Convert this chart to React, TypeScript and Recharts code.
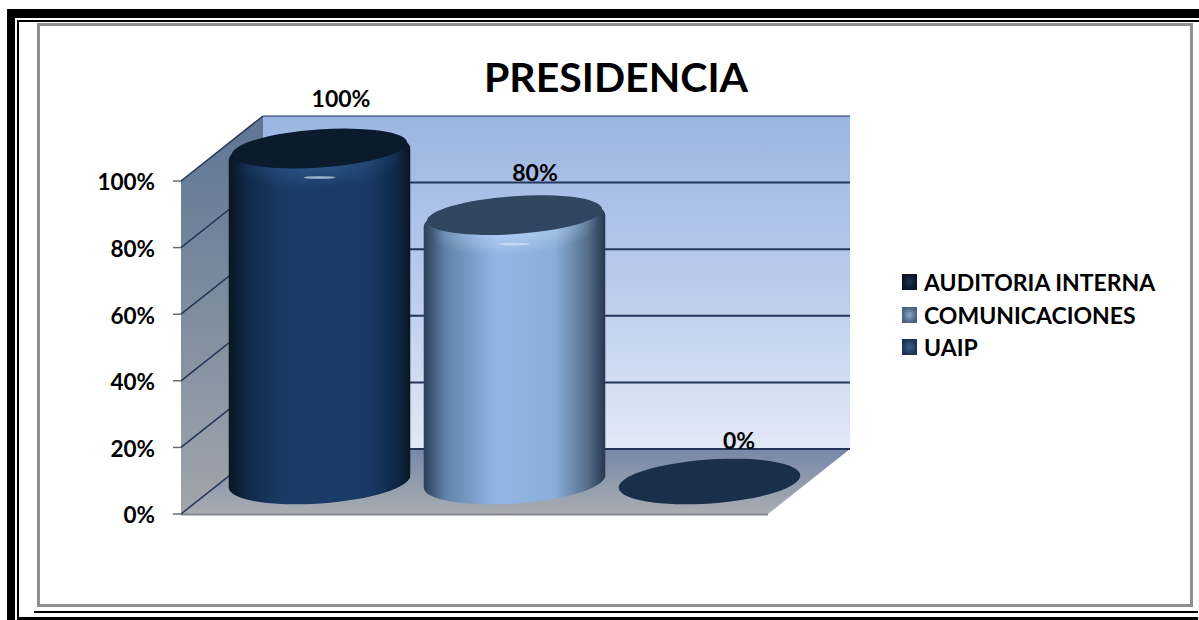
import React from 'react';
import { BarChart, Bar, XAxis, YAxis, Legend, usePlotArea } from 'recharts';

const seriesNames = ['AUDITORIA INTERNA', 'COMUNICACIONES', 'UAIP'];
const seriesValues = [100, 80, 0];
const yTicks = [0, 20, 40, 60, 80, 100];
const categoryName = 'PRESIDENCIA';

const data = [
  seriesNames.reduce<Record<string, string | number>>(
    (row, name, i) => {
      row[name] = seriesValues[i];
      return row;
    },
    { name: categoryName },
  ),
];

const FONT = 'Lato, "Open Sans", sans-serif';
// depth of the fake 3D box
const DEPTH_X = 82;
const DEPTH_Y = 65;
const BAR_SHIFT = -1.5;
const TILT = -4;
const RY = 22;

const looks = [
  { body: 'body0', face: '#0b1a2c', glow: 'glow0' },
  { body: 'body1', face: '#2f4560', glow: 'glow1' },
  { body: 'body2', face: '#1a2f4a', glow: 'glow0' },
];
const labelNudge = [
  { dx: 20, dy: -74 },
  { dx: 19, dy: -67 },
  { dx: 28, dy: -65 },
];

function Gradients() {
  return (
    <defs>
      <linearGradient id="body0" x1="0" y1="0" x2="1" y2="0">
        <stop offset="0" stopColor="#0a1522" />
        <stop offset="0.1" stopColor="#10294a" />
        <stop offset="0.3" stopColor="#1a3b66" />
        <stop offset="0.75" stopColor="#1a3b66" />
        <stop offset="0.92" stopColor="#10294a" />
        <stop offset="1" stopColor="#0a1522" />
      </linearGradient>
      <linearGradient id="body1" x1="0" y1="0" x2="1" y2="0">
        <stop offset="0" stopColor="#2b3f57" />
        <stop offset="0.12" stopColor="#5f82a8" />
        <stop offset="0.4" stopColor="#93b5e4" />
        <stop offset="0.72" stopColor="#8aaed8" />
        <stop offset="0.9" stopColor="#566f8c" />
        <stop offset="1" stopColor="#26384f" />
      </linearGradient>
      <linearGradient id="body2" x1="0" y1="0" x2="1" y2="0">
        <stop offset="0" stopColor="#1a2f4a" />
        <stop offset="1" stopColor="#1a2f4a" />
      </linearGradient>
      <radialGradient id="glow0">
        <stop offset="0" stopColor="#2f5a8c" stopOpacity="0.9" />
        <stop offset="1" stopColor="#2f5a8c" stopOpacity="0" />
      </radialGradient>
      <radialGradient id="glow1">
        <stop offset="0" stopColor="#b4d2f4" stopOpacity="0.95" />
        <stop offset="1" stopColor="#b4d2f4" stopOpacity="0" />
      </radialGradient>
      <linearGradient id="backWall" x1="0" y1="0" x2="0" y2="1">
        <stop offset="0" stopColor="#9bb5e2" />
        <stop offset="0.5" stopColor="#b9cbec" />
        <stop offset="1" stopColor="#e2e9f6" />
      </linearGradient>
      <linearGradient id="sideWall" x1="0" y1="0" x2="0" y2="1">
        <stop offset="0" stopColor="#5e7694" />
        <stop offset="1" stopColor="#a1a5ab" />
      </linearGradient>
      <linearGradient id="floor" x1="0" y1="0" x2="0" y2="1">
        <stop offset="0" stopColor="#7688a8" />
        <stop offset="1" stopColor="#a9adb2" />
      </linearGradient>
      <radialGradient id="swatch0">
        <stop offset="0" stopColor="#1c3350" />
        <stop offset="1" stopColor="#0a1524" />
      </radialGradient>
      <radialGradient id="swatch1">
        <stop offset="0" stopColor="#8ba6cc" />
        <stop offset="1" stopColor="#47607e" />
      </radialGradient>
      <radialGradient id="swatch2">
        <stop offset="0" stopColor="#3d5f92" />
        <stop offset="1" stopColor="#1b3352" />
      </radialGradient>
    </defs>
  );
}

function Walls() {
  const plot = usePlotArea();
  if (!plot) return null;
  const { x, y, width, height } = plot;
  const left = x;
  const right = x + width;
  const bottom = y + height;
  const yOf = (v: number) => bottom - (height * v) / 100;
  return (
    <g>
      <polygon
        points={`${left + DEPTH_X},${y - DEPTH_Y} ${right + DEPTH_X},${y - DEPTH_Y} ${right + DEPTH_X},${bottom - DEPTH_Y} ${left + DEPTH_X},${bottom - DEPTH_Y}`}
        fill="url(#backWall)"
      />
      <polygon
        points={`${left},${y} ${left + DEPTH_X},${y - DEPTH_Y} ${left + DEPTH_X},${bottom - DEPTH_Y} ${left},${bottom}`}
        fill="url(#sideWall)"
      />
      <polygon
        points={`${left},${bottom} ${left + DEPTH_X},${bottom - DEPTH_Y} ${right + DEPTH_X},${bottom - DEPTH_Y} ${right},${bottom}`}
        fill="url(#floor)"
      />
      <line x1={left} y1={bottom + 0.5} x2={right} y2={bottom + 0.5} stroke="#85878b" strokeWidth={2} />
      {yTicks.map((t) => (
        <g key={t} stroke="#22365a" fill="none">
          <line x1={left} y1={yOf(t)} x2={left + DEPTH_X} y2={yOf(t) - DEPTH_Y} strokeWidth={1.5} />
          <line
            x1={left + DEPTH_X}
            y1={yOf(t) - DEPTH_Y}
            x2={right + DEPTH_X}
            y2={yOf(t) - DEPTH_Y}
            strokeWidth={t === 100 ? 1 : 2}
          />
        </g>
      ))}
    </g>
  );
}

function Cylinder(props: any) {
  const { x, y, width, height, seriesIndex } = props;
  const look = looks[seriesIndex];
  const rx = width / 2;
  const cx = x + rx + DEPTH_X / 2 + BAR_SHIFT;
  const topY = y - DEPTH_Y / 2;
  const botY = y + height - DEPTH_Y / 2;
  const rad = (TILT * Math.PI) / 180;
  const ex = rx * Math.cos(rad);
  const ey = rx * Math.sin(rad);
  const rim = (cy: number) => `${cx - ex} ${cy - ey}`;
  const rimR = (cy: number) => `${cx + ex} ${cy + ey}`;
  if (height < 1) {
    return (
      <ellipse cx={cx} cy={botY} rx={rx} ry={RY} fill={look.face} transform={`rotate(${TILT} ${cx} ${botY})`} />
    );
  }
  const d = `M ${rim(topY + 6)} L ${rim(botY)} A ${rx} ${RY} ${TILT} 0 0 ${rimR(botY)} L ${rimR(topY + 6)} A ${rx} ${RY + 2} ${TILT} 0 0 ${rim(topY + 6)} Z`;
  return (
    <g>
      <path d={d} fill={`url(#${look.body})`} />
      <ellipse
        cx={cx}
        cy={topY + 14}
        rx={rx * 0.92}
        ry={RY + 4}
        fill={`url(#${look.glow})`}
        transform={`rotate(${TILT} ${cx} ${topY + 14})`}
      />
      <ellipse
        cx={cx}
        cy={topY}
        rx={rx * 0.965}
        ry={RY - 3}
        fill={look.face}
        transform={`rotate(${TILT} ${cx} ${topY})`}
      />
      <ellipse cx={cx} cy={topY + 29} rx={16} ry={1.3} fill="#d4e6fa" opacity={0.7} />
    </g>
  );
}

function CylinderLabel(props: any) {
  const { x, y, width, value, seriesIndex } = props;
  const nudge = labelNudge[seriesIndex];
  return (
    <text
      x={x + width / 2 + DEPTH_X / 2 + nudge.dx}
      y={y + nudge.dy}
      textAnchor="middle"
      fontFamily={FONT}
      fontWeight={700}
      fontSize={23}
      fill="#000"
    >
      {`${value}%`}
    </text>
  );
}

function LegendRows({ payload }: any) {
  return (
    <div style={{ fontFamily: FONT, fontWeight: 700, fontSize: 23, color: '#000', width: 290 }}>
      {(payload || []).map((item: any) => (
        <div key={item.value} style={{ display: 'flex', alignItems: 'center', height: 32.5, whiteSpace: 'nowrap' }}>
          <svg width={15} height={16} style={{ marginRight: 7 }}>
            <rect width={15} height={16} fill={item.color} />
          </svg>
          {item.value}
        </div>
      ))}
    </div>
  );
}

function Frame() {
  const box = (left: number, top: number, width: number, height: number, background: string) => (
    <div style={{ position: 'absolute', left, top, width, height, background }} />
  );
  return (
    <>
      {box(7, 9, 8, 611, '#000')}
      {box(15, 9, 1184, 9, '#000')}
      {box(17, 20, 1182, 2, '#000')}
      {box(17, 20, 2, 600, '#000')}
      {box(34, 611, 1164, 2, '#000')}
      {box(17, 617, 1181, 3, '#000')}
      <div
        style={{
          position: 'absolute',
          left: 37,
          top: 23,
          width: 1150,
          height: 578,
          border: '3px solid #8f8f8f',
        }}
      />
    </>
  );
}

export default function App() {
  return (
    <div style={{ position: 'fixed', left: 0, top: 0, width: 1199, height: 620, background: '#fff', overflow: 'hidden' }}>
      <Frame />
      <div
        style={{
          position: 'absolute',
          left: 416,
          width: 400,
          top: 52,
          textAlign: 'center',
          fontFamily: FONT,
          fontWeight: 700,
          fontSize: 41,
          lineHeight: '50px',
          color: '#000',
        }}
      >
        {categoryName}
      </div>
      <div style={{ position: 'absolute', left: 0, top: 0 }}>
        <BarChart
          width={1199}
          height={620}
          data={data}
          margin={{ top: 181, right: 431, bottom: 106, left: 121 }}
          barSize={182}
          barGap={13}
          barCategoryGap={7}
        >
          <Gradients />
          <Walls />
          <XAxis dataKey="name" hide />
          <YAxis
            width={60}
            domain={[0, 100]}
            ticks={yTicks}
            tickFormatter={(v: number) => `${v}%`}
            axisLine={false}
            tickLine={{ stroke: '#6d6d6d', strokeWidth: 1.5 }}
            tickSize={8}
            tickMargin={18}
            dy={1.5}
            tick={{ fill: '#000', fontFamily: FONT, fontWeight: 700, fontSize: 22.5 }}
          />
          {seriesNames.map((name, i) => (
            <Bar
              key={name}
              dataKey={name}
              name={name}
              fill={`url(#swatch${i})`}
              isAnimationActive={false}
              shape={(p: any) => <Cylinder {...p} seriesIndex={i} />}
              label={(p: any) => <CylinderLabel {...p} seriesIndex={i} />}
            />
          ))}
          <Legend
            layout="vertical"
            content={<LegendRows />}
            wrapperStyle={{ position: 'absolute', left: 902, top: 266, width: 0, height: 0 }}
          />
        </BarChart>
      </div>
    </div>
  );
}
